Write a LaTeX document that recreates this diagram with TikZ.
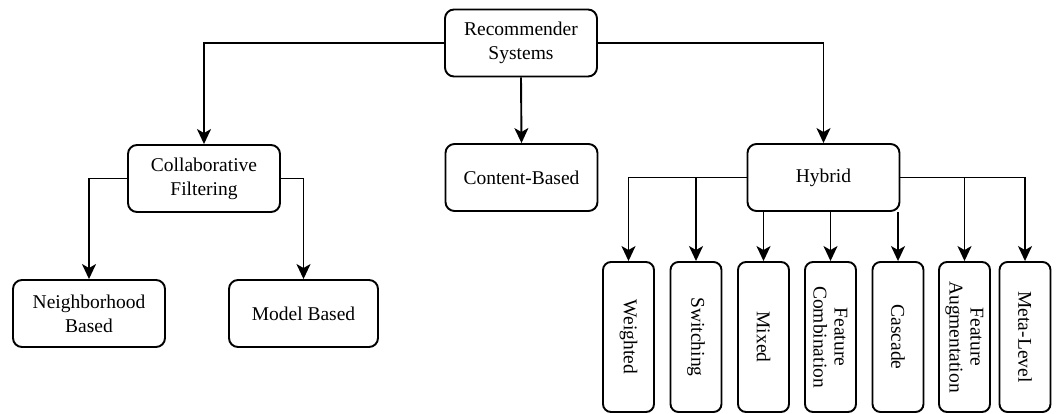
\documentclass[tikz,border=0pt]{standalone}
\usepackage{fontspec}
\setmainfont{Liberation Serif}
\usetikzlibrary{arrows.meta}
\tikzset{
  box/.style={draw, line width=1.9pt, rounded corners=9pt, align=center,
    minimum width=152pt, minimum height=67pt, inner sep=2pt,
    font=\rmfamily\fontsize{19.5}{24}\selectfont},
  leaf/.style={draw, line width=1.9pt, rounded corners=8pt, align=center,
    rotate=-90, minimum width=150pt, minimum height=51pt, inner sep=1pt,
    font=\rmfamily\fontsize{19.5}{21}\selectfont},
  arr/.style={line width=1.9pt, -{Stealth[length=15pt,width=14pt,inset=4pt]}},
}
\begin{document}
\begin{tikzpicture}[x=1pt,y=-1pt]
\useasboundingbox (0,0) rectangle (1057,413);
\node[box] (rs) at (521,43) {Recommender\\Systems};
\node[box] (cf) at (204,178.5) {Collaborative\\Filtering};
\node[box] (cb) at (521.5,177.5) {Content-Based};
\node[box] (hy) at (823.5,177.5) {Hybrid};
\node[box] (nb) at (89,313.5) {Neighborhood\\Based};
\node[box, minimum width=149pt] (mb) at (303.5,313.5) {Model Based};
\node[leaf] (w) at (628.5,337) {Weighted};
\node[leaf] (s) at (696,337) {Switching};
\node[leaf] (m) at (763.5,337) {Mixed};
\node[leaf] (fc) at (830.5,337) {Feature\\Combination};
\node[leaf] (c) at (898,337) {Cascade};
\node[leaf] (fa) at (964.5,337) {Feature\\Augmentation};
\node[leaf] (ml) at (1025,337) {Meta-Level};
\draw[arr] (rs.west) -| (cf.north);
\draw[arr] (rs.east) -| (hy.north);
\draw[arr] (rs.south) -- (cb.north);
\draw[arr] (cf.west) -| (nb.north);
\draw[arr] (cf.east) -| (mb.north);
\draw[arr] (hy.west) -| (w.west);
\draw[arr] (hy.west) -| (s.west);
\draw[arr] (hy.south -| m.west) -- (m.west);
\draw[arr] (hy.south -| fc.west) -- (fc.west);
\draw[arr] (hy.south -| c.west) -- (c.west);
\draw[arr] (hy.east) -| (fa.west);
\draw[arr] (hy.east) -| (ml.west);
\end{tikzpicture}
\end{document}
